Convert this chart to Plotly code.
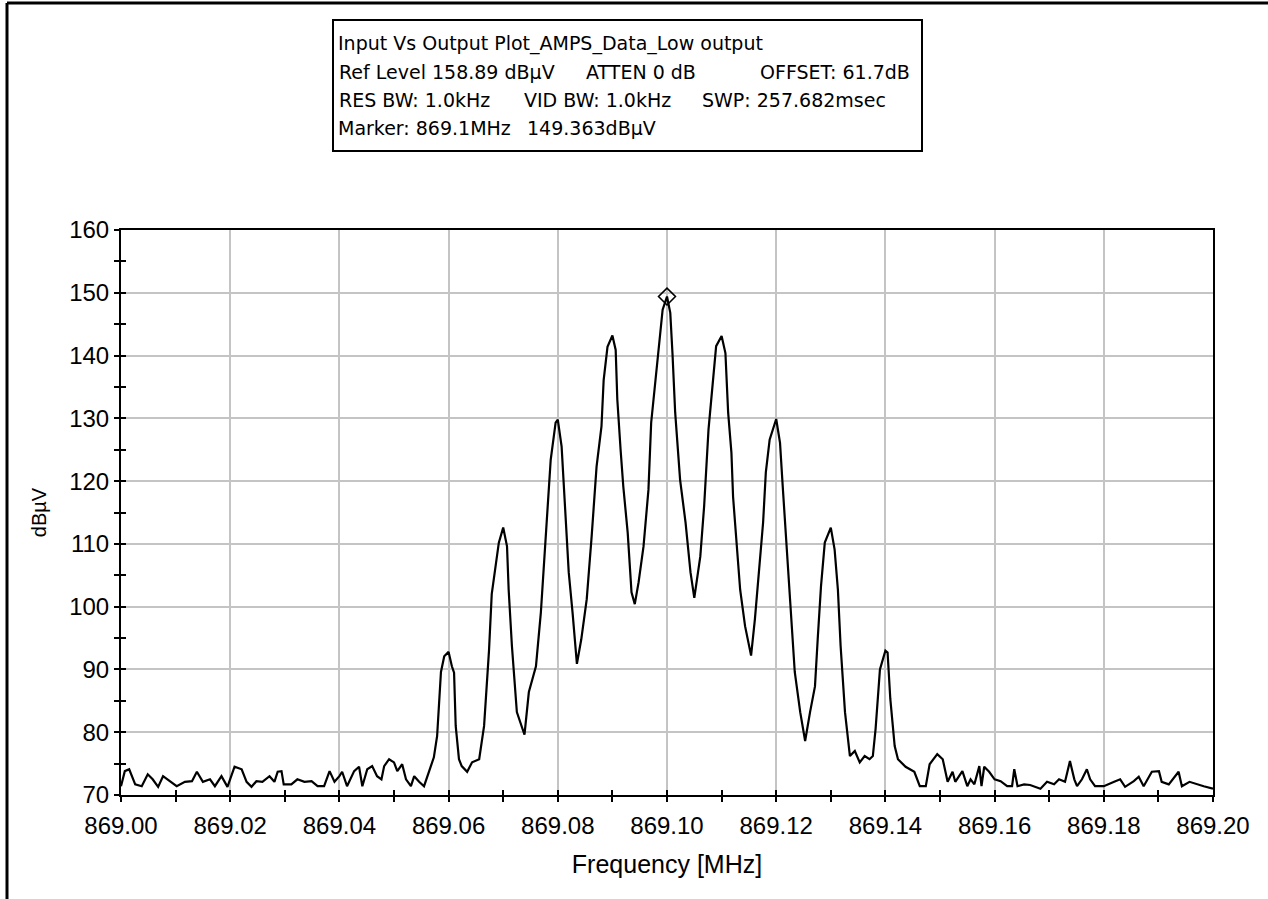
import plotly.graph_objects as go

# ---------------- data ----------------
FREQ_MHZ = [
    869.0000, 869.0007, 869.0015, 869.0026, 869.0038, 869.0049, 869.0058, 869.0068, 869.0077, 869.0089,
    869.0102, 869.0117, 869.0130, 869.0139, 869.0150, 869.0163, 869.0172, 869.0184, 869.0195, 869.0208,
    869.0221, 869.0230, 869.0239, 869.0248, 869.0259, 869.0272, 869.0281, 869.0287, 869.0294, 869.0298,
    869.0312, 869.0323, 869.0336, 869.0349, 869.0360, 869.0372, 869.0382, 869.0391, 869.0400, 869.0405,
    869.0414, 869.0427, 869.0436, 869.0442, 869.0451, 869.0460, 869.0469, 869.0477, 869.0482, 869.0491,
    869.0500, 869.0506, 869.0515, 869.0522, 869.0531, 869.0537, 869.0546, 869.0555, 869.0564, 869.0573,
    869.0579, 869.0586, 869.0592, 869.0600, 869.0606, 869.0610, 869.0613, 869.0619, 869.0624, 869.0634,
    869.0643, 869.0656, 869.0665, 869.0670, 869.0674, 869.0679, 869.0692, 869.0700, 869.0707, 869.0710,
    869.0716, 869.0725, 869.0739, 869.0747, 869.0760, 869.0769, 869.0778, 869.0787, 869.0796, 869.0800,
    869.0807, 869.0814, 869.0820, 869.0827, 869.0835, 869.0843, 869.0853, 869.0862, 869.0871, 869.0880,
    869.0884, 869.0891, 869.0900, 869.0906, 869.0909, 869.0915, 869.0920, 869.0928, 869.0935, 869.0941,
    869.0948, 869.0957, 869.0966, 869.0971, 869.0979, 869.0986, 869.0992, 869.1000, 869.1006, 869.1010,
    869.1015, 869.1024, 869.1034, 869.1043, 869.1050, 869.1061, 869.1068, 869.1076, 869.1085, 869.1090,
    869.1100, 869.1107, 869.1112, 869.1118, 869.1121, 869.1127, 869.1134, 869.1143, 869.1154, 869.1161,
    869.1167, 869.1176, 869.1181, 869.1188, 869.1200, 869.1207, 869.1212, 869.1218, 869.1222, 869.1227,
    869.1234, 869.1244, 869.1253, 869.1262, 869.1271, 869.1276, 869.1282, 869.1289, 869.1300, 869.1307,
    869.1313, 869.1318, 869.1326, 869.1335, 869.1344, 869.1353, 869.1362, 869.1371, 869.1377, 869.1382,
    869.1390, 869.1400, 869.1404, 869.1409, 869.1417, 869.1423, 869.1437, 869.1453, 869.1463, 869.1474,
    869.1481, 869.1495, 869.1505, 869.1514, 869.1523, 869.1528, 869.1541, 869.1550, 869.1556, 869.1563,
    869.1572, 869.1576, 869.1581, 869.1590, 869.1600, 869.1611, 869.1623, 869.1632, 869.1636, 869.1642,
    869.1654, 869.1665, 869.1684, 869.1696, 869.1709, 869.1718, 869.1729, 869.1738, 869.1746, 869.1751,
    869.1760, 869.1769, 869.1775, 869.1784, 869.1800, 869.1819, 869.1830, 869.1839, 869.1855, 869.1864,
    869.1873, 869.1888, 869.1901, 869.1906, 869.1919, 869.1937, 869.1943, 869.1957, 869.1970, 869.1983,
    869.2000,
]
LEVEL_DBUV = [
    71.4, 73.8, 74.1, 71.7, 71.4, 73.3, 72.5, 71.3, 73.0, 72.2,
    71.4, 72.1, 72.2, 73.7, 72.1, 72.5, 71.4, 73.0, 71.3, 74.5,
    74.1, 72.1, 71.3, 72.2, 72.1, 73.0, 72.1, 73.7, 73.8, 71.7,
    71.7, 72.5, 72.1, 72.2, 71.4, 71.4, 73.8, 72.1, 73.0, 73.7,
    71.4, 73.8, 74.5, 71.4, 74.1, 74.6, 73.0, 72.5, 74.6, 75.7,
    75.2, 73.8, 74.9, 72.5, 71.4, 73.0, 72.1, 71.4, 73.7, 76.0,
    79.4, 89.6, 92.1, 92.8, 90.5, 89.5, 81.0, 75.7, 74.6, 73.7,
    75.2, 75.7, 81.0, 86.9, 93.0, 102.0, 110.2, 112.6, 109.6, 102.7,
    93.7, 83.2, 79.6, 86.4, 90.5, 99.1, 110.7, 123.4, 129.3, 129.8,
    125.5, 115.0, 105.5, 99.1, 90.9, 94.8, 101.2, 111.2, 122.3, 128.7,
    136.1, 141.4, 143.2, 140.9, 133.0, 125.0, 119.1, 111.8, 102.3, 100.4,
    103.9, 109.6, 118.6, 129.3, 136.1, 142.0, 147.3, 149.4, 146.8, 140.4,
    130.9, 120.2, 113.4, 105.5, 101.4, 108.0, 116.0, 128.2, 136.1, 141.5,
    143.1, 140.4, 130.9, 124.5, 117.5, 110.7, 102.7, 96.9, 92.2, 98.0,
    104.3, 113.4, 121.4, 126.6, 129.9, 126.1, 119.1, 111.2, 104.3, 98.0,
    89.6, 83.2, 78.6, 83.2, 87.3, 94.8, 103.2, 110.2, 112.6, 109.1,
    102.7, 93.7, 83.2, 76.2, 77.0, 75.2, 76.2, 75.7, 76.2, 80.5,
    90.0, 93.0, 92.7, 85.3, 77.8, 75.7, 74.5, 73.7, 71.4, 71.4,
    74.9, 76.5, 75.7, 72.1, 73.7, 72.1, 73.8, 71.4, 72.5, 71.7,
    74.6, 71.4, 74.5, 73.7, 72.5, 72.2, 71.4, 71.4, 74.1, 71.4,
    71.7, 71.6, 71.0, 72.1, 71.7, 72.5, 72.1, 75.4, 72.5, 71.4,
    72.5, 74.1, 72.5, 71.4, 71.4, 72.1, 72.5, 71.3, 72.2, 72.9,
    71.4, 73.7, 73.8, 72.1, 71.7, 73.7, 71.4, 72.1, 71.7, 71.4,
    71.0,
]
MARKER_FREQ = [869.1]
MARKER_LEVEL = [149.4]

X_RANGE = [869.0, 869.2]
Y_RANGE = [70, 160]
X_TICKVALS = [869.00, 869.02, 869.04, 869.06, 869.08, 869.10, 869.12, 869.14, 869.16, 869.18, 869.20]
X_TICKTEXT = ["869.00", "869.02", "869.04", "869.06", "869.08", "869.10",
              "869.12", "869.14", "869.16", "869.18", "869.20"]
Y_TICKVALS = [70, 80, 90, 100, 110, 120, 130, 140, 150, 160]

HEADER_LINES = [
    ["Input Vs Output Plot_AMPS_Data_Low output"],
    ["Ref Level 158.89 dBµV", "ATTEN 0 dB", "OFFSET: 61.7dB"],
    ["RES BW: 1.0kHz", "VID BW: 1.0kHz", "SWP: 257.682msec"],
    ["Marker: 869.1MHz", "149.363dBµV"],
]

# ---------------- layout geometry (pixels) ----------------
W, H = 1268, 899
L, R, T, B = 121, 1213, 230, 795
PW, PH = R - L, B - T


def px(x):
    return (x - L) / PW


def py(y):
    return (B - y) / PH


FONT = "Liberation Sans, Arial, sans-serif"
HFONT = "DejaVu Sans, Liberation Sans, sans-serif"

fig = go.Figure()
fig.add_trace(go.Scatter(x=FREQ_MHZ, y=LEVEL_DBUV, mode="lines",
                         line=dict(color="black", width=2.2), showlegend=False,
                         hoverinfo="x+y"))
fig.add_trace(go.Scatter(x=MARKER_FREQ, y=MARKER_LEVEL, mode="markers",
                         marker=dict(symbol="diamond-open", size=13, color="black",
                                     line=dict(color="black", width=1.6)),
                         showlegend=False))
# empty trace on overlay axes (inside ticks -> crossing tick look)
fig.add_trace(go.Scatter(x=[], y=[], xaxis="x2", yaxis="y2", showlegend=False))

fig.update_layout(
    width=W, height=H, autosize=False,
    margin=dict(l=L, r=W - R, t=T, b=H - B, pad=0),
    paper_bgcolor="white", plot_bgcolor="white",
    font=dict(family=FONT, color="black"),
    xaxis=dict(range=X_RANGE, tickvals=X_TICKVALS, ticktext=X_TICKTEXT,
               showgrid=True, gridcolor="#c4c4c4", gridwidth=1.5,
               showline=True, linecolor="black", linewidth=2, mirror=True,
               ticks="outside", ticklen=5, tickwidth=2, tickcolor="black",
               minor=dict(dtick=0.01, tick0=869.0, ticks="outside", ticklen=5,
                          tickwidth=2, tickcolor="black", showgrid=False),
               tickfont=dict(size=24, family=FONT), ticklabelstandoff=3,
               title=dict(text="Frequency [MHz]", font=dict(size=25, family=FONT), standoff=18),
               zeroline=False, fixedrange=True),
    yaxis=dict(range=Y_RANGE, tickvals=Y_TICKVALS,
               showgrid=True, gridcolor="#c4c4c4", gridwidth=1.5,
               showline=True, linecolor="black", linewidth=2, mirror=True,
               ticks="outside", ticklen=5, tickwidth=2, tickcolor="black",
               minor=dict(dtick=5, tick0=70, ticks="outside", ticklen=5,
                          tickwidth=2, tickcolor="black", showgrid=False),
               tickfont=dict(size=24, family=FONT),
               title=dict(text="dBµV", font=dict(size=20, family=FONT), standoff=17),
               zeroline=False, fixedrange=True),
    xaxis2=dict(overlaying="x", anchor="y", range=X_RANGE, dtick=0.01, tick0=869.0,
                ticks="inside", ticklen=5, tickwidth=2, tickcolor="black",
                showticklabels=False, showgrid=False, zeroline=False, showline=False,
                fixedrange=True),
    yaxis2=dict(overlaying="y", anchor="x", range=Y_RANGE, dtick=5, tick0=70,
                ticks="inside", ticklen=5, tickwidth=2, tickcolor="black",
                showticklabels=False, showgrid=False, zeroline=False, showline=False,
                fixedrange=True),
)

# header box
fig.add_shape(type="rect", xref="paper", yref="paper",
              x0=px(333), x1=px(922), y0=py(151), y1=py(20),
              line=dict(color="black", width=2), fillcolor="white", layer="above")

line_y = [43, 72, 100, 128]
seg_x = [
    [336],
    [337, 584, 758],
    [337, 522, 700],
    [336, 525],
]
for row, texts in enumerate(HEADER_LINES):
    for col, txt in enumerate(texts):
        fig.add_annotation(xref="paper", yref="paper", x=px(seg_x[row][col]), y=py(line_y[row]),
                           text=txt, showarrow=False, xanchor="left", yanchor="middle",
                           font=dict(size=19, family=HFONT, color="black"))

# outer frame (top and left edges of the picture)
fig.add_shape(type="line", xref="paper", yref="paper", x0=px(7), x1=px(W + 5), y0=py(3), y1=py(3),
              line=dict(color="black", width=3))
fig.add_shape(type="line", xref="paper", yref="paper", x0=px(7), x1=px(7), y0=py(3), y1=py(H + 5),
              line=dict(color="black", width=3))

fig.write_html("out.html", config={"displayModeBar": False},
               post_script="document.body.style.margin='0px';")
